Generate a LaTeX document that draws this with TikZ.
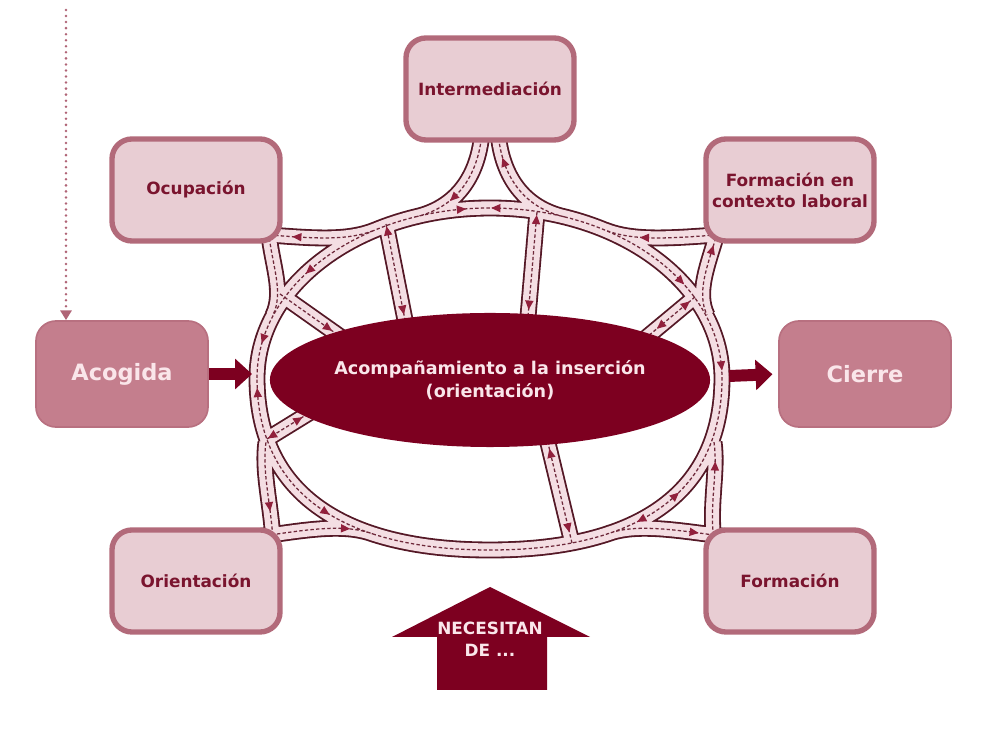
\documentclass[tikz,border=0pt]{standalone}
\usepackage{fontspec}
\setmainfont{DejaVu Sans}
\usetikzlibrary{shapes.geometric,arrows.meta,backgrounds,calc}

\definecolor{boxfill}{RGB}{232,205,211}
\definecolor{boxline}{RGB}{178,106,122}
\definecolor{boxtext}{RGB}{122,20,46}
\definecolor{darkfill}{RGB}{196,126,141}
\definecolor{darkline}{RGB}{184,112,128}
\definecolor{coremaroon}{RGB}{125,0,32}
\definecolor{paletext}{RGB}{250,230,234}
\definecolor{roadedge}{RGB}{84,24,38}
\definecolor{roadfill}{RGB}{244,222,227}
\definecolor{roadmid}{RGB}{110,40,58}
\definecolor{tipcol}{RGB}{145,32,60}
\definecolor{dotcol}{RGB}{176,100,118}

\begin{document}
\begin{tikzpicture}[x=0.025cm,y=-0.025cm,
  box/.style={rectangle,rounded corners=5mm,draw=boxline,line width=3.8pt,fill=boxfill,
    minimum width=4.2cm,minimum height=2.55cm,text=boxtext,align=center,
    font=\fontsize{12}{15}\selectfont\bfseries},
  endbox/.style={box,fill=darkfill,draw=darkline,line width=1.2pt,
    minimum width=4.3cm,minimum height=2.65cm,text=paletext,
    font=\fontsize{16}{19}\selectfont\bfseries},
  core/.style={ellipse,fill=coremaroon,inner sep=0pt,minimum width=9.25cm,minimum height=3.35cm,
    text=paletext,align=center,font=\fontsize{12.5}{16}\selectfont\bfseries},
  road/.style={draw=roadmid,line width=0.9pt,dash pattern=on 2.4pt off 1.6pt,
    preaction={draw=roadedge,line width=12pt,solid},
    preaction={draw=roadfill,line width=9.4pt,solid}},
  tip/.style={isosceles triangle,isosceles triangle stretches,fill=tipcol,inner sep=0pt,
    minimum width=6pt,minimum height=6.5pt,sloped,allow upside down},
  pit/.style={tip,shape border rotate=180},
  thickarrow/.style={draw=coremaroon,line width=8.5pt,-{Triangle[length=12pt,width=21pt]}},
  dotline/.style={draw=dotcol,line width=2pt,line cap=round,dash pattern=on 0pt off 4.3pt,
    -{Triangle[length=7pt,width=8pt]}}]
  \useasboundingbox (0,0) rectangle (1008,753);

  % boxes round the ring
  \node[box] (ocup) at (196,190) {Ocupación};
  \node[box] (inter) at (490,89) {Intermediación};
  \node[box] (fcl) at (790,190) {Formación en\\contexto laboral};
  \node[box] (orient) at (196,581) {Orientación};
  \node[box] (form) at (790,581) {Formación};
  \node[endbox] (acog) at (122,374) {Acogida};
  \node[endbox] (cierre) at (865,374) {Cierre};
  \node[core] (core) at (490,380) {Acompañamiento a la inserción\\(orientación)};

  % points on the ring
  \coordinate (rt) at (490,208); \coordinate (rr) at (722,378);
  \coordinate (rb) at (490,550); \coordinate (rl) at (257,378);
  \coordinate (sul) at (280,294); \coordinate (sulv) at (386,224);
  \coordinate (surv) at (537,212); \coordinate (sur) at (695,297);
  \coordinate (sll) at (267,439); \coordinate (slm) at (572,543);
  \coordinate (ringin) at (252,374); \coordinate (ringout) at (729,376);
  \coordinate (dtop) at (66,10);

  % road network
  \begin{scope}[on background layer]
    \draw[road]
      (rl) .. controls (257,284) and (361,208) .. node[pit,pos=.15] (a1) {} node[pit,pos=.44] (a2) {} node[tip,pos=.92] (a3) {} (rt)
      .. controls (619,208) and (722,284) .. node[pit,pos=.02] (a4) {} node[tip,pos=.61] (a5) {} node[tip,pos=.95] (a6) {} (rr)
      .. controls (722,490) and (642,550) .. node[pit,pos=.45] (a7) {} node[tip,pos=.58] (a8) {} (rb)
      .. controls (339,550) and (257,490) .. node[pit,pos=.47] (a9) {} node[tip,pos=.95] (a10) {} (rl)
      ([shift={(-30,-10)}]ocup.south east) .. controls (310,238) and (345,242) .. node[pit,pos=.3] (a11) {} (375,230)
      ([shift={(-14,-11)}]ocup.south east) .. controls (272,265) and (284,292) .. (273,315)
      ([shift={(-8,-10)}]inter.south) .. controls (478,178) and (455,208) .. node[tip,pos=.6] (a12) {} (415,217)
      ([shift={(8,-10)}]inter.south) .. controls (502,178) and (525,208) .. node[pit,pos=.25] (a13) {} (565,217)
      ([shift={(30,-10)}]fcl.south west) .. controls (675,238) and (635,242) .. node[tip,pos=.6] (a14) {} (605,230)
      ([shift={(14,-11)}]fcl.south west) .. controls (708,265) and (696,292) .. node[pit,pos=.2] (a15) {} (707,315)
      ([shift={(-28,10)}]orient.north east) .. controls (305,530) and (343,523) .. node[tip,pos=.7] (a16) {} (373,534)
      ([shift={(-10,8)}]orient.north east) .. controls (270,500) and (262,470) .. node[pit,pos=.3] (a17) {} (266,442)
      ([shift={(28,10)}]form.north west) .. controls (675,530) and (637,523) .. node[pit,pos=.25] (a18) {} (607,534)
      ([shift={(10,8)}]form.north west) .. controls (710,500) and (718,470) .. node[tip,pos=.7] (a19) {} (714,442)
      (sul) -- node[tip,pos=.75] (a20) {} ($(sul)!1.15!(core.163)$)
      (sulv) -- node[pit,pos=.08] (a21) {} node[tip,pos=.78] (a22) {} ($(sulv)!1.15!(core.144)$)
      (surv) -- node[pit,pos=.08] (a23) {} node[tip,pos=.78] (a24) {} ($(surv)!1.15!(core.60)$)
      (sur) -- node[pit,pos=.2] (a25) {} node[tip,pos=.65] (a26) {} ($(sur)!1.15!(core.16)$)
      (sll) -- node[pit,pos=.15] (a27) {} node[tip,pos=.7] (a28) {} ($(sll)!1.15!(core.191)$)
      (slm) -- node[pit,pos=.15] (a29) {} node[tip,pos=.78] (a30) {} ($(slm)!1.15!(core.312)$);
  \end{scope}

  % way in and way out
  \draw[dotline] (dtop) -- (dtop |- acog.north);
  \draw[thickarrow] (acog.east) -- (ringin);
  \draw[thickarrow,shorten >=4pt] (ringout) -- (cierre.west);

  % need arrow
  \fill[coremaroon] (437,690) -- (437,637) -- (392,637) -- (490,587) -- (590,637)
    -- (547,637) -- (547,690) -- cycle;
  \node[text=paletext,align=center,font=\fontsize{12}{16}\selectfont\bfseries] (need) at (490,639) {NECESITAN\\DE ...};
\end{tikzpicture}
\end{document}
